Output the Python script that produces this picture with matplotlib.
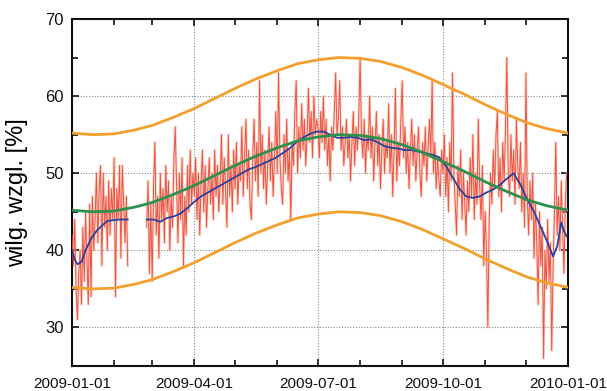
"""
Relative humidity 2009: daily values, running mean and seasonal fit band.
"""

import datetime as dt
import numpy as np
import pandas as pd
import matplotlib
matplotlib.use("Agg")
import matplotlib.pyplot as plt
import matplotlib.dates as mdates
from matplotlib.ticker import MultipleLocator

START = dt.date(2009, 1, 1)
NAN = np.nan

# ── daily relative humidity [%], one list per month ─────────────────────────
rh_jan = [42, 38, 44, 35, 31, 37, 40, 33, 43, 36, 45, 39, 33, 46, 34, 47,
          40, 44, 50, 41, 48, 51, 38, 50, 43, 47, 40, 49, 42, 48, 44]
rh_feb = [52, 34, 48, 44, 51, 39, 51, 46, 41, 47, 38,
          NAN, NAN, NAN, NAN, NAN, NAN, NAN, NAN, NAN, NAN, NAN, NAN, NAN,
          43, 49, 37, 46]
rh_mar = [36, 48, 54, 42, 47, 39, 50, 44, 48, 41, 51, 45, 49, 40, 47, 43,
          52, 56, 48, 41, 50, 44, 52, 38, 47, 42, 51, 45, 53, 46, 50]
rh_apr = [47, 52, 44, 50, 42, 49, 53, 45, 51, 43, 48, 52, 46, 50, 44, 53,
          47, 51, 45, 49, 55, 46, 52, 48, 43, 55, 47, 51, 45, 53]
rh_may = [48, 54, 46, 51, 49, 56, 47, 52, 57, 48, 53, 46, 44, 52, 57, 49,
          54, 47, 62, 50, 55, 48, 53, 46, 51, 56, 49, 54, 47, 52, 58]
rh_jun = [50, 63, 52, 48, 46, 55, 50, 57, 49, 53, 44, 54, 51, 58, 62, 50,
          56, 52, 59, 53, 57, 51, 55, 61, 54, 58, 52, 60, 55, 57]
rh_jul = [56, 52, 58, 54, 60, 53, 57, 51, 55, 49, 56, 53, 58, 63, 55, 57,
          62, 53, 56, 51, 54, 57, 52, 55, 49, 54, 58, 51, 56, 53, 57]
rh_aug = [65, 55, 52, 57, 50, 55, 53, 60, 52, 56, 49, 54, 58, 51, 55, 48,
          53, 57, 50, 54, 52, 59, 50, 55, 47, 53, 61, 49, 54, 51, 57]
rh_sep = [62, 52, 56, 50, 54, 48, 53, 57, 51, 55, 49, 53, 56, 50, 47, 54,
          51, 56, 49, 53, 57, 52, 62, 50, 54, 48, 52, 49, 47, 53]
rh_oct = [50, 55, 47, 52, 45, 54, 49, 63, 50, 46, 42, 51, 47, 53, 44, 50,
          46, 42, 49, 45, 52, 47, 55, 44, 50, 46, 57, 48, 44, 51, 38]
rh_nov = [45, 40, 30, 44, 50, 46, 53, 48, 55, 58, 47, 52, 45, 54, 49, 56,
          65, 50, 47, 55, 49, 53, 46, 57, 51, 48, 54, 45, 50, 43]
rh_dec = [63, 47, 42, 49, 44, 50, 39, 46, 41, 33, 45, 38, 43, 26, 40, 35,
          44, 36, 41, 27, 38, 45, 54, 42, 47, 40, 49, 43, 37, 46, 50]

# ── running mean (day of year, value) ───────────────────────────────────────
mean_days = [0, 2, 4, 7, 10, 14, 18, 22, 26, 30, 35, 41,
             55, 60, 65, 70, 75, 80, 85, 90, 95, 100, 105, 110, 115, 120,
             125, 130, 135, 140, 145, 150, 155, 160, 165, 170, 175, 180,
             185, 190, 195, 200, 205, 210, 215, 220, 225, 230, 235, 240,
             245, 250, 255, 260, 265, 270, 275, 280, 285, 290, 295, 300,
             305, 310, 315, 320, 325, 330, 335, 340, 345, 350, 354, 357,
             360, 362, 364]
mean_vals = [40.0, 38.8, 38.2, 38.5, 40.0, 41.5, 42.5, 43.2, 43.8, 43.9, 44.0, 44.0,
             44.0, 44.0, 43.7, 44.2, 44.4, 44.8, 45.5, 46.3, 47.0, 47.5, 48.0, 48.5, 49.0, 49.5,
             50.0, 50.5, 50.8, 51.2, 51.6, 52.0, 52.6, 53.2, 54.0, 54.6, 55.1, 55.4,
             55.4, 55.0, 54.6, 54.6, 54.7, 54.6, 54.3, 54.4, 54.0, 53.5, 53.3, 53.2,
             53.0, 53.0, 52.8, 52.6, 52.4, 52.1, 51.0, 49.5, 48.0, 47.0, 46.8, 47.0,
             47.5, 47.9, 48.5, 49.3, 50.0, 48.5, 46.6, 45.0, 43.0, 41.0, 39.2, 40.5,
             43.6, 42.5, 41.8]
# break in the record (no data mid-February)
mean_gap_after = 41

# ── seasonal fit and its +/- band ───────────────────────────────────────────
fit_days = [0, 15, 31, 46, 59, 74, 90, 105, 120, 135, 151, 166, 181,
            196, 212, 227, 243, 258, 273, 288, 304, 319, 334, 349, 365]
fit_mid = [45.2, 45.0, 45.1, 45.6, 46.2, 47.2, 48.4, 49.7, 51.0, 52.2, 53.3,
           54.2, 54.7, 55.0, 54.9, 54.5, 53.7, 52.7, 51.5, 50.3, 48.9, 47.7,
           46.6, 45.8, 45.2]
fit_upper = [55.2, 55.0, 55.1, 55.6, 56.2, 57.2, 58.4, 59.7, 61.0, 62.2, 63.3,
             64.2, 64.7, 65.0, 64.9, 64.5, 63.7, 62.7, 61.5, 60.3, 58.9, 57.7,
             56.6, 55.8, 55.2]
fit_lower = [35.2, 35.0, 35.1, 35.6, 36.2, 37.2, 38.4, 39.7, 41.0, 42.2, 43.3,
             44.2, 44.7, 45.0, 44.9, 44.5, 43.7, 42.7, 41.5, 40.3, 38.9, 37.7,
             36.6, 35.8, 35.2]

Y_LABEL = "wilg. wzgl. [%]"


def to_dates(days):
    return [START + dt.timedelta(days=int(d)) for d in days]


def main():
    rh = (rh_jan + rh_feb + rh_mar + rh_apr + rh_may + rh_jun +
          rh_jul + rh_aug + rh_sep + rh_oct + rh_nov + rh_dec)
    daily = pd.Series(rh, index=pd.date_range("2009-01-01", periods=len(rh), freq="D"))

    plt.rcParams["font.family"] = ["Liberation Sans", "DejaVu Sans"]

    fig = plt.figure(figsize=(6.07, 3.91), dpi=100)
    ax = fig.add_axes([0.1186, 0.0639, 0.8172, 0.8875])

    # daily values: soft halo + thin line
    ax.plot(daily.index, daily.values, color="#f7b9a2", lw=2.0, alpha=0.5, zorder=2)
    ax.plot(daily.index, daily.values, color="#ec5443", lw=0.7, zorder=3)

    # running mean, broken where data is missing
    md = np.array(mean_days)
    mv = np.array(mean_vals)
    first = md <= mean_gap_after
    for sel in (first, ~first):
        ax.plot(to_dates(md[sel]), mv[sel], color="#2b3f9c", lw=1.3, zorder=4)

    fd = to_dates(fit_days)
    ax.plot(fd, fit_upper, color="#f5a02c", lw=2.0, zorder=5)
    ax.plot(fd, fit_lower, color="#f5a02c", lw=2.0, zorder=5)
    ax.plot(fd, fit_mid, color="#2e8f4e", lw=2.0, zorder=5)

    ax.set_xlim(dt.date(2009, 1, 1), dt.date(2010, 1, 1))
    ax.set_ylim(25, 70)

    ax.xaxis.set_major_locator(mdates.MonthLocator(bymonth=[1, 4, 7, 10]))
    ax.xaxis.set_minor_locator(mdates.MonthLocator())
    ax.xaxis.set_major_formatter(mdates.DateFormatter("%Y-%m-%d"))
    ax.yaxis.set_major_locator(MultipleLocator(10))
    ax.yaxis.set_minor_locator(MultipleLocator(5))

    ax.yaxis.set_major_formatter(lambda v, _: f"{v:.0f}" if v >= 30 else "")

    ax.tick_params(which="both", direction="in", top=True, right=True,
                   width=1.2, colors="#111111")
    ax.tick_params(which="major", length=5)
    ax.tick_params(which="minor", length=4)
    ax.tick_params(axis="x", pad=8, labelsize=11)
    ax.tick_params(axis="y", pad=6, labelsize=12)

    ax.grid(True, which="major", color="#888888", linestyle=(0, (1, 1.5)), lw=0.8)
    for sp in ax.spines.values():
        sp.set_linewidth(1.5)
        sp.set_color("#111111")

    ax.set_ylabel(Y_LABEL, fontsize=17, labelpad=12)

    fig.savefig("out.png", dpi=100)


if __name__ == "__main__":
    main()
